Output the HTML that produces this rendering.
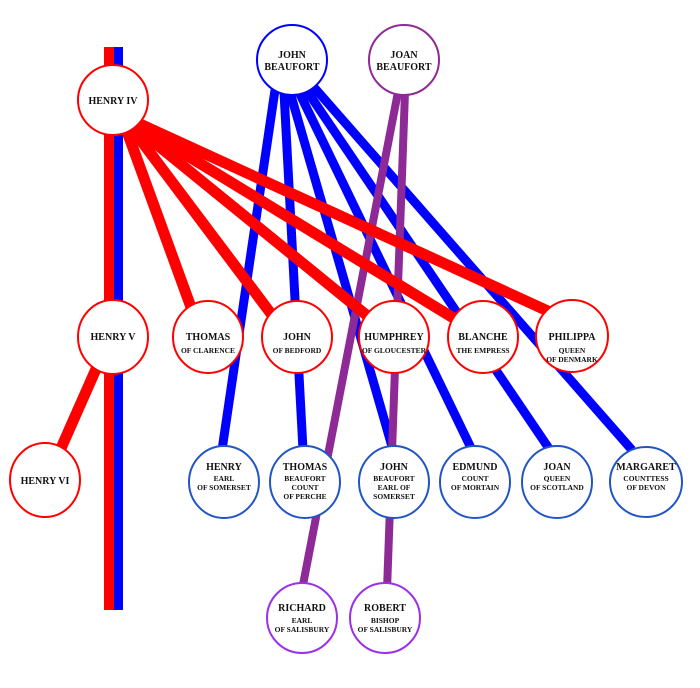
<!DOCTYPE html>
<html><head><style>
html,body{margin:0;padding:0;background:#fff;}
svg{display:block;}
text{font-family:"Liberation Serif",serif;font-weight:bold;fill:#111;text-anchor:middle;}
.n{font-size:10px;}
.s{font-size:7.5px;}
</style></head><body>
<svg width="700" height="688" viewBox="0 0 700 688" xmlns="http://www.w3.org/2000/svg">
<rect x="104" y="47" width="10" height="563" fill="#ff0000"/>
<rect x="114" y="47" width="9" height="563" fill="#0000ff"/>
<g stroke="#0000ff" stroke-width="9">
<line x1="275" y1="90" x2="222" y2="450"/>
<line x1="284" y1="92" x2="303" y2="450"/>
<line x1="290" y1="92" x2="393" y2="450"/>
<line x1="298" y1="90" x2="472" y2="450"/>
<line x1="305" y1="88" x2="550" y2="450"/>
<line x1="312" y1="85" x2="632" y2="450"/>
</g>
<g stroke="#8e2a96" stroke-width="8">
<line x1="398" y1="92" x2="302" y2="590"/>
<line x1="405" y1="92" x2="387" y2="590"/>
</g>
<g stroke="#ff0000" stroke-width="11">
<line x1="125" y1="126" x2="192" y2="310"/>
<line x1="130" y1="126" x2="272" y2="315"/>
<line x1="134" y1="126" x2="370" y2="318"/>
<line x1="137" y1="125" x2="460" y2="322"/>
<line x1="140" y1="124" x2="550" y2="312"/>
<line x1="100" y1="360" x2="58" y2="455"/>
</g>
<g fill="#fff" stroke-width="2">
<circle cx="113" cy="100" r="35" stroke="#ff0000"/>
<circle cx="292" cy="60" r="35" stroke="#0000ff"/>
<circle cx="404" cy="60" r="35" stroke="#8e2a96"/>
<g stroke="#ff0000">
<ellipse cx="113" cy="337" rx="35" ry="37"/>
<ellipse cx="208" cy="337" rx="35" ry="36"/>
<ellipse cx="297" cy="337" rx="35" ry="36"/>
<ellipse cx="394" cy="337" rx="35" ry="36"/>
<ellipse cx="483" cy="337" rx="35" ry="36"/>
<ellipse cx="572" cy="336" rx="36" ry="36"/>
<ellipse cx="45" cy="480" rx="35" ry="37"/>
</g>
<g stroke="#2255c4">
<ellipse cx="224" cy="482" rx="35" ry="36"/>
<ellipse cx="305" cy="482" rx="35" ry="36"/>
<ellipse cx="394" cy="482" rx="35" ry="36"/>
<ellipse cx="475" cy="482" rx="35" ry="36"/>
<ellipse cx="557" cy="482" rx="35" ry="36"/>
<ellipse cx="646" cy="482" rx="36" ry="35"/>
</g>
<g stroke="#9b30e8">
<circle cx="302" cy="618" r="35"/>
<circle cx="385" cy="618" r="35"/>
</g>
</g>
<text class="n" x="113" y="104">HENRY IV</text>
<text class="n" x="292" y="58">JOHN</text><text class="n" x="292" y="70">BEAUFORT</text>
<text class="n" x="404" y="58">JOAN</text><text class="n" x="404" y="70">BEAUFORT</text>
<text class="n" x="113" y="340">HENRY V</text>
<text class="n" x="208" y="340">THOMAS</text><text class="s" x="208" y="353">OF CLARENCE</text>
<text class="n" x="297" y="340">JOHN</text><text class="s" x="297" y="353">OF BEDFORD</text>
<text class="n" x="394" y="340">HUMPHREY</text><text class="s" x="394" y="353">OF GLOUCESTER</text>
<text class="n" x="483" y="340">BLANCHE</text><text class="s" x="483" y="353">THE EMPRESS</text>
<text class="n" x="572" y="340">PHILIPPA</text><text class="s" x="572" y="353">QUEEN</text><text class="s" x="572" y="362">OF DENMARK</text>
<text class="n" x="45" y="484">HENRY VI</text>
<text class="n" x="224" y="470">HENRY</text><text class="s" x="224" y="481">EARL</text><text class="s" x="224" y="490">OF SOMERSET</text>
<text class="n" x="305" y="470">THOMAS</text><text class="s" x="305" y="481">BEAUFORT</text><text class="s" x="305" y="490">COUNT</text><text class="s" x="305" y="499">OF PERCHE</text>
<text class="n" x="394" y="470">JOHN</text><text class="s" x="394" y="481">BEAUFORT</text><text class="s" x="394" y="490">EARL OF</text><text class="s" x="394" y="499">SOMERSET</text>
<text class="n" x="475" y="470">EDMUND</text><text class="s" x="475" y="481">COUNT</text><text class="s" x="475" y="490">OF MORTAIN</text>
<text class="n" x="557" y="470">JOAN</text><text class="s" x="557" y="481">QUEEN</text><text class="s" x="557" y="490">OF SCOTLAND</text>
<text class="n" x="646" y="470">MARGARET</text><text class="s" x="646" y="481">COUNTTESS</text><text class="s" x="646" y="490">OF DEVON</text>
<text class="n" x="302" y="611">RICHARD</text><text class="s" x="302" y="623">EARL</text><text class="s" x="302" y="632">OF SALISBURY</text>
<text class="n" x="385" y="611">ROBERT</text><text class="s" x="385" y="623">BISHOP</text><text class="s" x="385" y="632">OF SALISBURY</text>
</svg>
</body></html>
